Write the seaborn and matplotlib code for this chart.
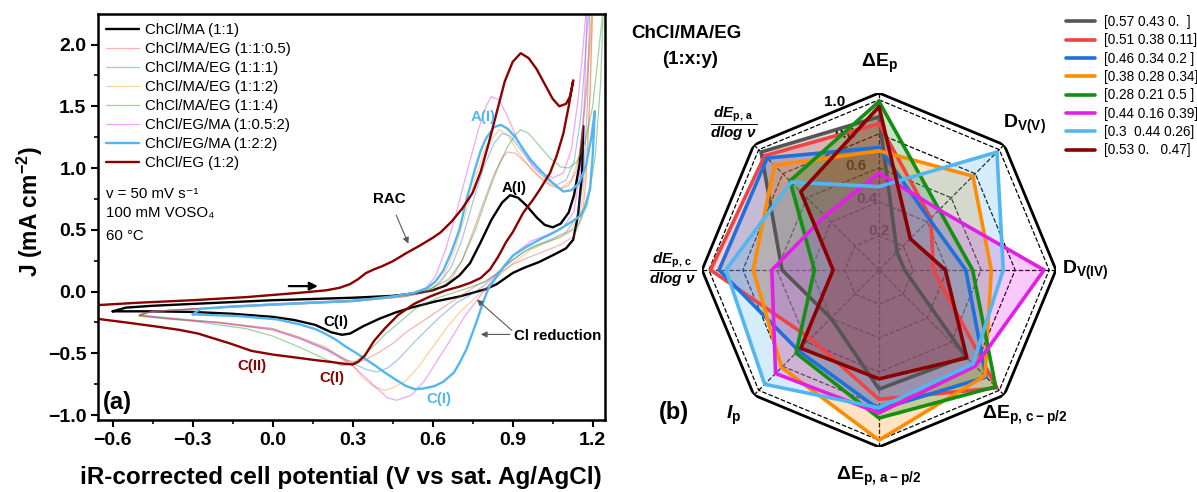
import numpy as np
import matplotlib
matplotlib.use('Agg')
import matplotlib.pyplot as plt
import seaborn as sns
from matplotlib.ticker import MultipleLocator

# ---------------- (a) cyclic voltammograms: E (V), J (mA cm-2)
cv_labels = ['ChCl/MA (1:1)', 'ChCl/MA/EG (1:1:0.5)', 'ChCl/MA/EG (1:1:1)', 'ChCl/MA/EG (1:1:2)',
             'ChCl/MA/EG (1:1:4)', 'ChCl/EG/MA (1:0.5:2)', 'ChCl/EG/MA (1:2:2)', 'ChCl/EG (1:2)']

E_ma = [-0.60, -0.55, -0.45, -0.30, -0.15, 0.00, 0.15, 0.30, 0.45, 0.55, 0.60, 0.65, 0.70, 0.74, 0.78, 0.82, 0.86, 0.89,
        0.92, 0.95, 0.99, 1.02, 1.05, 1.08, 1.11, 1.13, 1.15, 1.165,
        1.16, 1.145, 1.127, 1.10, 1.065, 1.00, 0.94, 0.90, 0.84, 0.80, 0.75, 0.70, 0.61, 0.52, 0.46, 0.40, 0.34, 0.29,
        0.26, 0.22, 0.16, 0.08, 0.00, -0.15, -0.30, -0.45, -0.55, -0.60]
J_ma = [-0.16, -0.13, -0.115, -0.10, -0.085, -0.07, -0.06, -0.05, -0.035, -0.01, 0.01, 0.05, 0.13, 0.23, 0.40, 0.58, 0.72,
        0.78, 0.76, 0.70, 0.60, 0.54, 0.52, 0.55, 0.64, 0.78, 1.02, 1.34,
        0.95, 0.62, 0.42, 0.35, 0.31, 0.24, 0.19, 0.15, 0.06, 0.02, -0.01, -0.04, -0.08, -0.13, -0.17, -0.22, -0.28, -0.34,
        -0.35, -0.33, -0.27, -0.23, -0.205, -0.18, -0.165, -0.16, -0.16, -0.16]

E_05 = [-0.50, -0.45, -0.30, -0.10, 0.10, 0.30, 0.45, 0.55, 0.62, 0.67, 0.71, 0.75, 0.79, 0.83, 0.86, 0.88, 0.91, 0.95,
        1.00, 1.04, 1.08, 1.11, 1.14, 1.16, 1.18, 1.20,
        1.19, 1.175, 1.16, 1.13, 1.08, 1.00, 0.94, 0.90, 0.85, 0.80, 0.765, 0.68, 0.59, 0.50, 0.45, 0.40, 0.35, 0.32,
        0.28, 0.20, 0.10, 0.00, -0.20, -0.40, -0.50]
J_05 = [-0.19, -0.16, -0.14, -0.12, -0.10, -0.08, -0.05, -0.02, 0.02, 0.10, 0.25, 0.48, 0.72, 0.95, 1.08, 1.13, 1.12, 1.04,
        0.93, 0.86, 0.83, 0.86, 0.98, 1.25, 1.70, 2.30,
        1.60, 0.90, 0.60, 0.45, 0.38, 0.31, 0.26, 0.22, 0.15, 0.09, 0.05, -0.07, -0.20, -0.33, -0.42, -0.49, -0.55, -0.57,
        -0.56, -0.47, -0.38, -0.31, -0.25, -0.22, -0.19]

E_1 = [-0.50, -0.45, 0.00, 0.30, 0.50, 0.58, 0.63, 0.67, 0.71, 0.75, 0.79, 0.83, 0.86, 0.89, 0.93, 0.98, 1.03, 1.065,
       1.10, 1.13, 1.155, 1.175, 1.19,
       1.18, 1.165, 1.14, 1.10, 1.04, 0.97, 0.90, 0.85, 0.79, 0.74, 0.69, 0.62, 0.54, 0.47, 0.43, 0.39, 0.35, 0.30,
       0.20, 0.10, 0.00, -0.20, -0.40, -0.50]
J_1 = [-0.19, -0.16, -0.11, -0.08, -0.04, 0.00, 0.08, 0.20, 0.42, 0.72, 1.00, 1.20, 1.28, 1.26, 1.15, 1.00, 0.90, 0.865,
       0.90, 1.05, 1.40, 2.00, 2.40,
       1.50, 0.90, 0.60, 0.48, 0.42, 0.36, 0.26, 0.16, 0.044, -0.03, -0.09, -0.22, -0.39, -0.55, -0.62, -0.65, -0.63, -0.58,
       -0.46, -0.37, -0.30, -0.25, -0.21, -0.19]

E_2 = [-0.50, -0.45, 0.00, 0.30, 0.50, 0.60, 0.64, 0.68, 0.72, 0.76, 0.80, 0.85, 0.88, 0.92, 0.97, 1.02, 1.08, 1.12,
       1.15, 1.17, 1.19, 1.20,
       1.19, 1.175, 1.155, 1.12, 1.05, 0.97, 0.90, 0.85, 0.80, 0.75, 0.70, 0.65, 0.60, 0.55, 0.50, 0.45, 0.42, 0.38,
       0.34, 0.30, 0.20, 0.10, 0.00, -0.20, -0.40, -0.50]
J_2 = [-0.19, -0.16, -0.11, -0.08, -0.04, 0.02, 0.12, 0.32, 0.60, 0.92, 1.18, 1.31, 1.27, 1.13, 0.99, 0.89, 0.84, 0.90,
       1.10, 1.50, 2.10, 2.40,
       1.60, 1.00, 0.65, 0.50, 0.42, 0.34, 0.23, 0.13, 0.03, -0.07, -0.17, -0.30, -0.45, -0.60, -0.72, -0.78, -0.80, -0.77,
       -0.70, -0.60, -0.45, -0.37, -0.30, -0.25, -0.215, -0.20]

E_4 = [-0.50, -0.45, 0.00, 0.30, 0.50, 0.60, 0.66, 0.71, 0.76, 0.80, 0.84, 0.88, 0.91, 0.93, 0.96, 1.00, 1.04, 1.08,
       1.11, 1.14, 1.17, 1.20, 1.22, 1.24,
       1.23, 1.21, 1.18, 1.14, 1.08, 1.00, 0.94, 0.88, 0.80, 0.72, 0.62, 0.54, 0.48, 0.42, 0.38, 0.34, 0.30, 0.26,
       0.20, 0.10, 0.00, -0.10, -0.30, -0.50]
J_4 = [-0.19, -0.16, -0.10, -0.07, -0.02, 0.03, 0.10, 0.25, 0.50, 0.75, 0.98, 1.17, 1.27, 1.31, 1.28, 1.18, 1.08, 1.01,
       1.00, 1.05, 1.20, 1.50, 1.90, 2.30,
       1.70, 1.10, 0.70, 0.52, 0.44, 0.38, 0.32, 0.22, 0.08, 0.02, -0.05, -0.13, -0.24, -0.35, -0.44, -0.52, -0.58, -0.60,
       -0.55, -0.45, -0.36, -0.30, -0.24, -0.20]

E_052 = [-0.50, -0.45, 0.00, 0.30, 0.50, 0.57, 0.61, 0.65, 0.69, 0.73, 0.77, 0.80, 0.82, 0.85, 0.88, 0.92, 0.96, 1.00,
         1.05, 1.09, 1.12, 1.145, 1.165, 1.18,
         1.17, 1.155, 1.13, 1.09, 1.03, 0.97, 0.92, 0.87, 0.82, 0.77, 0.72, 0.67, 0.62, 0.57, 0.52, 0.465, 0.43, 0.40,
         0.35, 0.30, 0.20, 0.10, 0.00, -0.20, -0.40, -0.50]
J_052 = [-0.19, -0.16, -0.10, -0.07, -0.03, 0.02, 0.12, 0.35, 0.65, 0.98, 1.30, 1.50, 1.58, 1.55, 1.42, 1.22, 1.07, 0.97,
         0.92, 0.96, 1.15, 1.55, 2.00, 2.40,
         1.60, 1.00, 0.65, 0.52, 0.46, 0.41, 0.33, 0.22, 0.08, -0.06, -0.20, -0.38, -0.55, -0.72, -0.84, -0.88, -0.86, -0.80,
         -0.70, -0.60, -0.47, -0.38, -0.31, -0.255, -0.215, -0.19]

E_22 = [-0.30, -0.27, -0.15, 0.00, 0.15, 0.30, 0.45, 0.53, 0.58, 0.61, 0.64, 0.67, 0.70, 0.73, 0.76, 0.78, 0.80, 0.83,
        0.855, 0.88, 0.91, 0.94, 0.97, 1.00, 1.03, 1.06, 1.09, 1.12, 1.15, 1.175, 1.195, 1.208,
        1.20, 1.19, 1.17, 1.152, 1.11, 1.065, 1.00, 0.95, 0.90, 0.87, 0.84, 0.81, 0.79, 0.77, 0.75, 0.726, 0.70, 0.68,
        0.64, 0.607, 0.565, 0.533, 0.50, 0.459, 0.42, 0.385, 0.35, 0.311, 0.27, 0.237, 0.20, 0.163, 0.10, 0.015, -0.13, -0.30]
J_22 = [-0.185, -0.14, -0.12, -0.105, -0.09, -0.077, -0.04, -0.01, 0.03, 0.08, 0.17, 0.32, 0.50, 0.77, 1.00, 1.14, 1.24,
        1.33, 1.35, 1.32, 1.25, 1.15, 1.06, 0.99, 0.92, 0.86, 0.81, 0.82, 0.88, 1.02, 1.25, 1.46,
        1.10, 0.83, 0.68, 0.61, 0.55, 0.49, 0.42, 0.36, 0.29, 0.21, 0.12, 0.03, -0.08, -0.21, -0.33, -0.47, -0.58, -0.655,
        -0.73, -0.765, -0.785, -0.79, -0.765, -0.71, -0.655, -0.60, -0.55, -0.495, -0.44, -0.39, -0.345, -0.306, -0.265,
        -0.225, -0.198, -0.185]

E_eg = [-0.66, -0.50, -0.30, -0.10, 0.10, 0.20, 0.25, 0.29, 0.32, 0.35, 0.38, 0.41, 0.45, 0.50, 0.55, 0.60, 0.63, 0.67,
        0.71, 0.75, 0.78, 0.81, 0.84, 0.87, 0.90, 0.93, 0.96, 0.99, 1.02, 1.05, 1.075, 1.10, 1.115, 1.127,
        1.11, 1.09, 1.065, 1.04, 1.00, 0.975, 0.94, 0.90, 0.875, 0.845, 0.815, 0.78, 0.74, 0.70, 0.65, 0.59, 0.53, 0.47,
        0.42, 0.38, 0.345, 0.32, 0.30, 0.27, 0.22, 0.16, 0.09, 0.00, -0.08, -0.16, -0.22, -0.28, -0.35, -0.43, -0.55, -0.66]
J_eg = [-0.11, -0.09, -0.07, -0.045, -0.01, 0.01, 0.03, 0.06, 0.10, 0.15, 0.18, 0.205, 0.245, 0.31, 0.37, 0.435, 0.48,
        0.565, 0.67, 0.80, 0.97, 1.20, 1.45, 1.70, 1.86, 1.93, 1.89, 1.80, 1.68, 1.56, 1.50, 1.52, 1.58, 1.71,
        1.50, 1.28, 1.10, 0.96, 0.82, 0.74, 0.64, 0.48, 0.40, 0.28, 0.18, 0.11, 0.07, 0.04, 0.01, -0.04, -0.10, -0.19,
        -0.30, -0.40, -0.52, -0.57, -0.59, -0.585, -0.57, -0.555, -0.535, -0.51, -0.48, -0.42, -0.38, -0.34, -0.31,
        -0.285, -0.25, -0.22]

# ---------------- (b) radar chart, normalised descriptors
radar_axes = ['ΔE$_{\\mathrm{p}}$', 'D$_{\\mathrm{V(V)}}$', 'D$_{\\mathrm{V(IV)}}$', 'ΔE$_{\\mathrm{p,\\,c-p/2}}$',
              'ΔE$_{\\mathrm{p,\\,a-p/2}}$', '$\\mathit{I}_{\\mathrm{p}}$',
              '$\\dfrac{\\mathit{dE}_{\\mathrm{p,\\,c}}}{\\mathit{dlog\\ ν}}$',
              '$\\dfrac{\\mathit{dE}_{\\mathrm{p,\\,a}}}{\\mathit{dlog\\ ν}}$']
ring_levels = [0.2, 0.4, 0.6, 0.8, 1.0]

x_ma_eg = [np.array([0.57, 0.43, 0.]), np.array([0.51, 0.38, 0.11]), np.array([0.46, 0.34, 0.2]),
           np.array([0.38, 0.28, 0.34]), np.array([0.28, 0.21, 0.5]), np.array([0.44, 0.16, 0.39]),
           np.array([0.3, 0.44, 0.26]), np.array([0.53, 0., 0.47])]

r_gray = [0.90, 0.15, 0.15, 0.72, 0.70, 0.40, 0.57, 0.98]
r_red = [0.86, 0.43, 0.32, 0.98, 0.76, 0.57, 0.99, 0.95]
r_blue = [0.72, 0.42, 0.51, 0.89, 0.82, 0.67, 0.94, 0.93]
r_orange = [0.70, 0.78, 0.66, 0.88, 1.00, 0.81, 0.74, 0.87]
r_green = [0.99, 0.50, 0.55, 0.97, 0.87, 0.69, 0.38, 0.74]
r_magenta = [0.57, 0.50, 0.97, 0.80, 0.84, 0.86, 0.63, 0.45]
r_lblue = [0.49, 0.98, 0.73, 0.78, 0.81, 0.95, 0.90, 0.73]
r_dred = [0.96, 0.26, 0.39, 0.73, 0.64, 0.65, 0.27, 0.65]

colors = ['#555555', '#ef4444', '#1f6fdc', '#ff8c00', '#138f13', '#e31ee6', '#52b7f0', '#8b0000']

sns.set_theme(style='ticks')
plt.rcParams['font.family'] = ['Liberation Sans', 'DejaVu Sans']
plt.rcParams['mathtext.fontset'] = 'custom'
plt.rcParams['mathtext.rm'] = 'Liberation Sans:bold'
plt.rcParams['mathtext.it'] = 'Liberation Sans:italic:bold'
plt.rcParams['mathtext.bf'] = 'Liberation Sans:bold'
plt.rcParams['text.color'] = 'black'
plt.rcParams['axes.labelcolor'] = 'black'
plt.rcParams['xtick.color'] = 'black'
plt.rcParams['ytick.color'] = 'black'

fig = plt.figure(figsize=(11.97, 4.92), dpi=100)

# ===== panel (a)
ax = fig.add_axes([0.0821, 0.1463, 0.4233, 0.8247])
cv_data = [(E_ma, J_ma, 'black', 1.7, 1.0), (E_05, J_05, colors[1], 0.9, 0.4), (E_1, J_1, colors[2], 0.9, 0.4),
           (E_2, J_2, colors[3], 0.9, 0.4), (E_4, J_4, colors[4], 0.9, 0.4), (E_052, J_052, colors[5], 0.9, 0.4),
           (E_22, J_22, colors[6], 1.7, 1.0), (E_eg, J_eg, colors[7], 1.7, 1.0)]
for (E, J, c, lw, a), lab in zip(cv_data, cv_labels):
    sns.lineplot(x=E, y=J, sort=False, estimator=None, color=c, lw=lw, alpha=a, label=lab, ax=ax)

ax.set_xlim(-0.654, 1.246)
ax.set_ylim(-1.04, 2.245)
ax.xaxis.set_major_locator(MultipleLocator(0.3))
ax.xaxis.set_minor_locator(MultipleLocator(0.15))
ax.yaxis.set_major_locator(MultipleLocator(0.5))
ax.yaxis.set_minor_locator(MultipleLocator(0.25))
ax.tick_params(which='major', direction='out', length=5, width=1.5, labelsize=14, colors='black')
ax.tick_params(which='minor', direction='out', length=3, width=1.2, colors='black')
plt.setp(ax.get_xticklabels() + ax.get_yticklabels(), fontweight='bold')
for s in ax.spines.values():
    s.set_linewidth(1.8)
    s.set_color('black')

ax.set_xlabel('iR-corrected cell potential (V vs sat. Ag/AgCl)', fontsize=17.5, fontweight='bold')
ax.xaxis.set_label_coords(0.479, -0.158)
ax.xaxis.label.set_va('baseline')
ax.set_ylabel('J (mA cm$^{-2}$)', fontsize=16.5, fontweight='bold')
ax.yaxis.set_label_coords(-0.134, 0.513)
ax.yaxis.label.set_va('center')

ax.legend(loc='upper left', bbox_to_anchor=(0.016, 0.978), frameon=False, fontsize=10.8,
          handlelength=2.2, handletextpad=0.35, labelspacing=0.33, borderpad=0, borderaxespad=0)

ax.text(-0.625, 0.792, 'v = 50 mV s⁻¹', fontsize=10.8, va='center')
ax.text(-0.625, 0.636, '100 mM VOSO₄', fontsize=10.8, va='center')
ax.text(-0.625, 0.448, '60 °C', fontsize=10.8, va='center')
ax.text(-0.582, -0.896, '(a)', fontsize=17, fontweight='bold', ha='center', va='center')

bold = dict(fontsize=10.8, fontweight='bold', ha='center', va='center')
ax.text(0.437, 0.749, 'RAC', color='black', **bold)
ax.text(0.904, 0.838, 'A(I)', color='black', **bold)
ax.text(0.788, 1.411, 'A(I)', color=colors[6], **bold)
ax.text(0.238, -0.25, 'C(I)', color='black', **bold)
ax.text(-0.079, -0.60, 'C(II)', color=colors[7], **bold)
ax.text(0.221, -0.70, 'C(I)', color=colors[7], **bold)
ax.text(0.625, -0.87, 'C(I)', color=colors[6], **bold)
ax.text(0.905, -0.36, 'Cl reduction', fontsize=10.8, fontweight='bold', ha='left', va='center')

gray_arrow = dict(arrowstyle='-|>', color='0.35', lw=0.8, mutation_scale=9)
ax.annotate('', xy=(0.513, 0.367), xytext=(0.459, 0.64), arrowprops=gray_arrow)
ax.annotate('', xy=(0.758, -0.05), xytext=(0.905, -0.33), arrowprops=gray_arrow)
ax.annotate('', xy=(0.77, -0.347), xytext=(0.9, -0.347), arrowprops=gray_arrow)
ax.annotate('', xy=(0.18, 0.044), xytext=(0.05, 0.044),
            arrowprops=dict(arrowstyle='-|>', color='black', lw=1.6, mutation_scale=12))

# ===== panel (b)
rax = fig.add_axes([0.5865, 0.0915, 0.2957, 0.7195], projection='polar')
rax.set_theta_zero_location('N')
rax.set_theta_direction(-1)
theta = np.deg2rad(np.arange(0, 360, 45))
theta_c = np.append(theta, theta[0])
rmax = 1.04

for r in ring_levels:
    rax.plot(theta_c, np.full(9, r), color='black', ls='--', lw=0.9, zorder=1)
for t in theta:
    rax.plot([t, t], [0, rmax], color='black', ls='--', lw=0.9, zorder=1)
rax.plot(theta_c, np.full(9, rmax), color='black', lw=2.0, zorder=5)

radar_vals = [r_gray, r_red, r_blue, r_orange, r_green, r_magenta, r_lblue, r_dred]
handles = []
for vals, c, frac in zip(radar_vals, colors, x_ma_eg):
    v = np.append(vals, vals[0])
    rax.fill(theta_c, v, color=c, alpha=0.24, lw=0, zorder=2)
    h, = rax.plot(theta_c, v, color=c, lw=2.6, zorder=3, label=str(frac))
    handles.append(h)

rax.set_ylim(0, rmax)
rax.spines['polar'].set_visible(False)
rax.set_facecolor('none')
rax.set_rgrids(ring_levels, labels=['0.2', '0.4', '0.6', '0.8', '1.0'], angle=341,
               fontsize=11, fontweight='bold', color='black')
rax.set_xticks(theta)
rax.set_xticklabels(radar_axes, fontsize=14, fontweight='bold', color='black')
for lbl in rax.get_xticklabels()[6:]:
    lbl.set_fontsize(11)
rax.tick_params(axis='x', pad=14, length=0)
rax.grid(False)

fig.text(686 / 1197, 1 - 33 / 492, 'ChCl/MA/EG', fontsize=13.5, fontweight='bold', ha='center', va='center')
fig.text(690 / 1197, 1 - 60 / 492, '(1:x:y)', fontsize=13.5, fontweight='bold', ha='center', va='center')
fig.text(674 / 1197, 1 - 413 / 492, '(b)', fontsize=17, fontweight='bold', ha='center', va='center')

fig.legend(handles=handles, loc='upper left', bbox_to_anchor=(1066 / 1197, 1 - 15 / 492), frameon=False,
           fontsize=9.8, handlelength=2.1, handletextpad=0.7, labelspacing=0.32, borderpad=0, borderaxespad=0)

fig.savefig('out.png', dpi=100)
